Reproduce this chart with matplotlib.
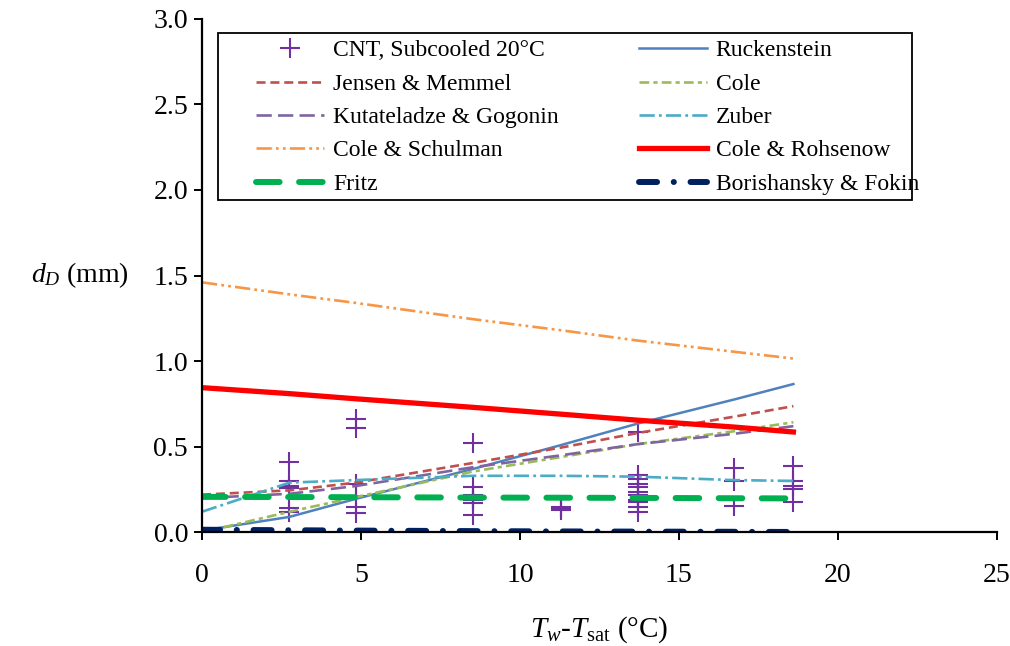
import matplotlib
matplotlib.use("Agg")
import matplotlib.pyplot as plt
import matplotlib.patches as patches

plt.rcParams['font.family'] = ['Liberation Serif', 'DejaVu Serif']
plt.rcParams['mathtext.fontset'] = 'custom'
plt.rcParams['mathtext.rm'] = 'Liberation Serif'
plt.rcParams['mathtext.it'] = 'Liberation Serif:italic'
plt.rcParams['lines.scale_dashes'] = False

# measured bubble departure diameters (mm) vs wall superheat (C)
cnt_x = [2.75] * 6 + [4.83] * 6 + [8.52] * 7 + [11.3] * 3 + [13.7] * 11 + [16.72] * 3 + [18.6] * 5
cnt_d = [0.41, 0.30, 0.27, 0.26, 0.14, 0.12,
         0.66, 0.61, 0.285, 0.21, 0.15, 0.11,
         0.52, 0.265, 0.216, 0.203, 0.187, 0.171, 0.10,
         0.15, 0.14, 0.13,
         0.585, 0.333, 0.314, 0.285, 0.265, 0.236, 0.216, 0.187, 0.177, 0.148, 0.119,
         0.376, 0.298, 0.152,
         0.388, 0.30, 0.271, 0.251, 0.177]

# correlation predictions
corr_x = [0, 2.75, 4.83, 8.52, 11.3, 13.7, 16.72, 18.6]
ruckenstein = [0.01, 0.09, 0.195, 0.37, 0.51, 0.635, 0.775, 0.866]
jensen = [0.22, 0.245, 0.29, 0.405, 0.495, 0.58, 0.675, 0.737]
cole = [0.0, 0.12, 0.205, 0.355, 0.44, 0.515, 0.59, 0.643]
kutateladze = [0.20, 0.225, 0.27, 0.38, 0.45, 0.515, 0.575, 0.62]
zuber = [0.12, 0.29, 0.305, 0.33, 0.33, 0.325, 0.305, 0.30]
cole_schulman = [1.46, 1.39, 1.34, 1.245, 1.18, 1.12, 1.055, 1.015]
cole_rohsenow = [0.845, 0.81, 0.78, 0.73, 0.69, 0.655, 0.615, 0.586]
fritz = [0.207, 0.206, 0.205, 0.203, 0.202, 0.201, 0.199, 0.198]
borishansky = [0.015, 0.012, 0.01, 0.007, 0.005, 0.004, 0.003, 0.002]

fig = plt.figure(figsize=(10.1, 6.46), dpi=100)
ax = fig.add_axes([0.2, 0.176, 0.787, 0.795])

h_cnt, = ax.plot(cnt_x, cnt_d, ls='none', marker='+', ms=15, mew=1.5,
                 color='#7030A0', label='CNT, Subcooled 20\u00b0C')
h_ruck, = ax.plot(corr_x, ruckenstein, color='#4F81BD', lw=1.8, label='Ruckenstein')
h_jen, = ax.plot(corr_x, jensen, color='#C0504D', lw=1.9, dashes=(6.5, 3.5),
                 label='Jensen & Memmel')
h_cole, = ax.plot(corr_x, cole, color='#9BBB59', lw=1.9, dashes=(7, 3, 3, 3),
                  label='Cole')
h_kut, = ax.plot(corr_x, kutateladze, color='#8064A2', lw=1.9, dashes=(11, 4.5),
                 label='Kutateladze & Gogonin')
h_zub, = ax.plot(corr_x, zuber, color='#4BACC6', lw=1.9, dashes=(11, 3, 2, 3),
                 label='Zuber')
h_cs, = ax.plot(corr_x, cole_schulman, color='#F79646', lw=1.9,
                dashes=(11, 3, 2, 3, 2, 3), label='Cole & Schulman')
h_cr, = ax.plot(corr_x, cole_rohsenow, color='#FF0000', lw=3.8, label='Cole & Rohsenow')
h_fr, = ax.plot(corr_x, fritz, color='#00B050', lw=4.3, dashes=(17, 14),
                dash_capstyle='round', label='Fritz')
h_bf, = ax.plot(corr_x, borishansky, color='#002060', lw=4.3, dashes=(13, 12, 0.1, 12),
                dash_capstyle='round', label='Borishansky & Fokin')

ax.set_xlim(0, 25)
ax.set_ylim(0, 3.0)
ax.set_xticks([0, 5, 10, 15, 20, 25])
ax.set_yticks([0, 0.5, 1.0, 1.5, 2.0, 2.5, 3.0])
ax.set_yticklabels(['0.0', '0.5', '1.0', '1.5', '2.0', '2.5', '3.0'])
for side in ['top', 'right']:
    ax.spines[side].set_visible(False)
for side in ['left', 'bottom']:
    ax.spines[side].set_linewidth(1.6)
ax.tick_params(axis='both', direction='out', length=6, width=1.4, labelsize=20)
ax.tick_params(axis='x', pad=16)
ax.tick_params(axis='y', pad=4)

ax.set_xlabel('$T_w$-$T_{\\rm sat}$ (\u00b0C)', fontsize=21, va='center')
ax.xaxis.set_label_coords(0.5, -0.19)
ax.set_ylabel('$d_D$ (mm)', fontsize=20, rotation=0, ha='center', va='center')
ax.yaxis.set_label_coords(-0.153, 0.5)

# legend box drawn separately so the padding matches the original
box = patches.Rectangle((0.0201, 0.647), 0.873, 0.326, transform=ax.transAxes,
                        facecolor='white', edgecolor='black', linewidth=1.3, zorder=4)
ax.add_patch(box)

handles = [h_cnt, h_jen, h_kut, h_cs, h_fr, h_ruck, h_cole, h_zub, h_cr, h_bf]
leg = ax.legend(handles=handles, loc='center left', ncol=2,
                bbox_to_anchor=(0.0679, 0.808), fontsize=17, frameon=False,
                handlelength=2.88, handletextpad=0.38, labelspacing=0.5,
                borderpad=0, borderaxespad=0, columnspacing=3.4, numpoints=1)
leg.set_zorder(5)

fig.savefig('out.png', dpi=100)
